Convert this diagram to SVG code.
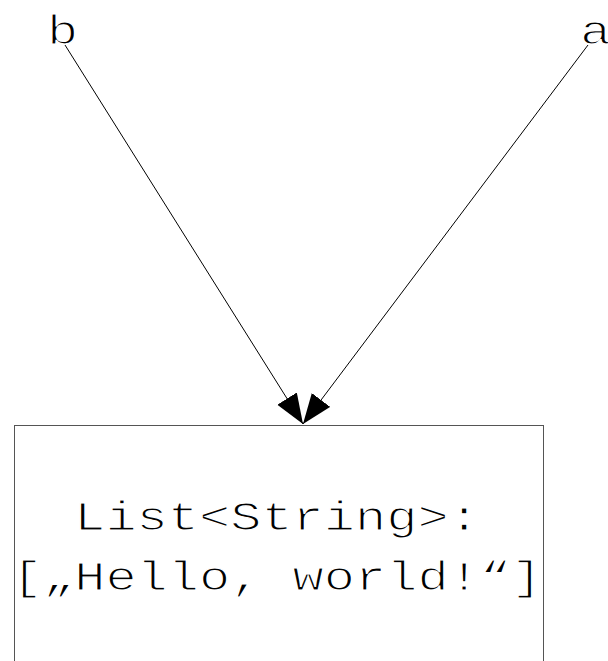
<svg xmlns="http://www.w3.org/2000/svg" width="608" height="661" viewBox="0 0 608 661">
  <style>
    /* monospace lettering, flattened about the baseline and thinned by a light halo */
    .label { font-family: "Liberation Mono", "DejaVu Sans Mono", monospace; font-size: 52px; fill: #000; stroke: #fff; stroke-width: 1.6px; paint-order: normal; }
    .box { fill: #fff; stroke: #555; stroke-width: 1; }
    .edge { fill: none; stroke: #000; stroke-width: 1; }
  </style>
  <defs>
    <marker id="arrow" markerUnits="userSpaceOnUse" markerWidth="30" markerHeight="24" refX="30" refY="11.5" orient="auto">
      <path d="M0,0 L30,11.5 L0,23 z" fill="#000"/>
    </marker>
  </defs>
  <rect width="608" height="661" fill="#fff"/>

  <g id="edges">
    <line class="edge" x1="65" y1="45" x2="303" y2="424" marker-end="url(#arrow)"/>
    <line class="edge" x1="588" y1="45" x2="303" y2="424" marker-end="url(#arrow)"/>
  </g>

  <g id="node-list">
    <rect class="box" x="14.5" y="425.5" width="529" height="260"/>
    <text class="label" text-anchor="middle" transform="translate(277,530) scale(1,0.78)">List&lt;String&gt;:</text>
    <text class="label" text-anchor="middle" transform="translate(277,590) scale(1,0.78)">[„Hello, world!“]</text>
  </g>

  <g id="node-b">
    <text class="label" transform="translate(47,44) scale(1,0.78)">b</text>
  </g>

  <g id="node-a">
    <text class="label" transform="translate(580,44) scale(1,0.78)">a</text>
  </g>
</svg>
